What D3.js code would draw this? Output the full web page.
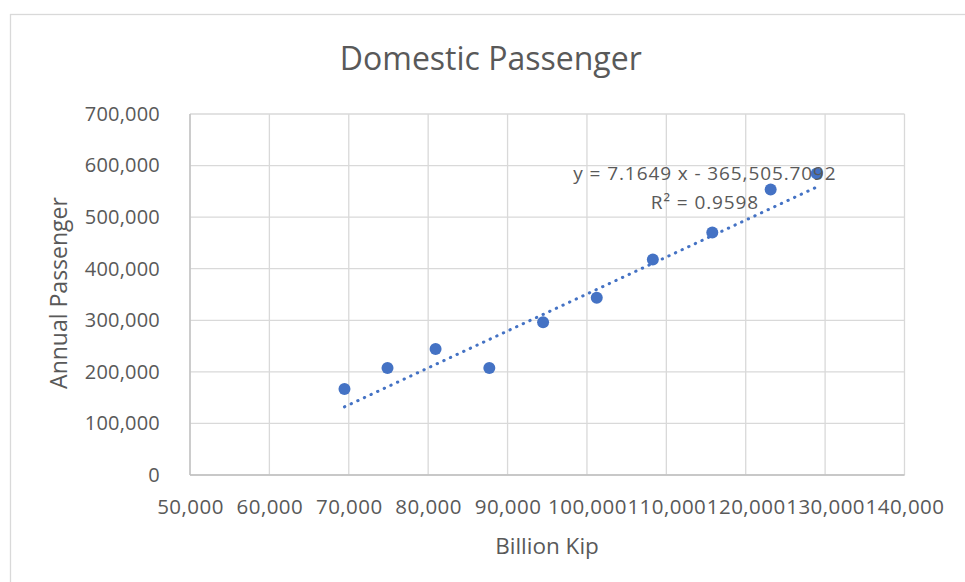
<!DOCTYPE html>
<html>
<head>
<meta charset="utf-8">
<script src="https://cdn.jsdelivr.net/npm/d3@7"></script>
<style>
  html, body { margin: 0; padding: 0; background: #fff; }
  svg { display: block; font-family: "Open Sans", "Liberation Sans", sans-serif; }
</style>
</head>
<body>
<svg id="chart" width="965" height="582"></svg>
<script>
// GDP (billion kip) against annual domestic passengers
const billionKip = [69458, 74880, 80935, 87705, 94476, 101236, 108300, 115790, 123140, 128940];
const annualPassenger = [166640, 207470, 244400, 207470, 296130, 343580, 418000, 470000, 553600, 584700];

// Linear trendline as reported on the chart
const trendSlope = 7.1649;
const trendIntercept = -365505.7092;
const trendR2 = 0.9598;

const xTicks = [50000, 60000, 70000, 80000, 90000, 100000, 110000, 120000, 130000, 140000];
const yTicks = [0, 100000, 200000, 300000, 400000, 500000, 600000, 700000];

const chartTitle = "Domestic Passenger";
const xTitle = "Billion Kip";
const yTitle = "Annual Passenger";

const textColor = "#595959";
const gridColor = "#d9d9d9";
const axisColor = "#bfbfbf";
const markColor = "#4472c4";

const svg = d3.select("#chart");
const plot = { left: 190, right: 904.5, top: 114, bottom: 475 };

// outer chart frame
svg.append("rect")
  .attr("x", 10.5).attr("y", 14.5)
  .attr("width", 1000).attr("height", 620)
  .attr("fill", "#fff")
  .attr("stroke", gridColor).attr("stroke-width", 1.3);

const x = d3.scaleLinear().domain([50000, 140000]).range([plot.left, plot.right]);
const y = d3.scaleLinear().domain([0, 700000]).range([plot.bottom, plot.top]);

// gridlines
const grid = svg.append("g");
grid.selectAll(".vg").data(xTicks).join("line")
  .attr("x1", d => x(d)).attr("x2", d => x(d))
  .attr("y1", plot.top).attr("y2", plot.bottom)
  .attr("stroke", gridColor).attr("stroke-width", 1.3);
grid.selectAll(".hg").data(yTicks).join("line")
  .attr("x1", plot.left).attr("x2", plot.right)
  .attr("y1", d => y(d)).attr("y2", d => y(d))
  .attr("stroke", gridColor).attr("stroke-width", 1.3);

// axis lines
svg.append("line")
  .attr("x1", plot.left).attr("x2", plot.left)
  .attr("y1", plot.top).attr("y2", plot.bottom)
  .attr("stroke", axisColor).attr("stroke-width", 1.3);
svg.append("line")
  .attr("x1", plot.left).attr("x2", plot.right)
  .attr("y1", plot.bottom).attr("y2", plot.bottom)
  .attr("stroke", axisColor).attr("stroke-width", 1.3);

const fmt = d3.format(",");

// axes (labels only)
const xAxis = svg.append("g")
  .attr("transform", `translate(0,${plot.bottom})`)
  .call(d3.axisBottom(x).tickValues(xTicks).tickFormat(fmt).tickSize(0).tickPadding(24));
const yAxis = svg.append("g")
  .attr("transform", `translate(${plot.left},0)`)
  .call(d3.axisLeft(y).tickValues(yTicks).tickFormat(fmt).tickSize(0).tickPadding(30));
[xAxis, yAxis].forEach(g => {
  g.select(".domain").remove();
  g.selectAll("text")
    .attr("fill", textColor)
    .style("font-family", '"Open Sans", sans-serif')
    .style("font-size", "20px");
});
xAxis.selectAll("text").style("font-size", "20.5px").style("letter-spacing", "0.45px");
yAxis.selectAll("text").style("letter-spacing", "0.2px");

// trendline between the smallest and largest x
const xMin = d3.min(billionKip), xMax = d3.max(billionKip);
svg.append("line")
  .attr("x1", x(xMin)).attr("y1", y(trendSlope * xMin + trendIntercept))
  .attr("x2", x(xMax)).attr("y2", y(trendSlope * xMax + trendIntercept))
  .attr("stroke", markColor)
  .attr("stroke-width", 3)
  .attr("stroke-linecap", "round")
  .attr("stroke-dasharray", "0.4 6.9");

// data points
svg.append("g").selectAll("circle")
  .data(billionKip.map((v, i) => [v, annualPassenger[i]]))
  .join("circle")
  .attr("cx", d => x(d[0]))
  .attr("cy", d => y(d[1]))
  .attr("r", 6)
  .attr("fill", markColor);

// trendline equation
const eq = svg.append("text")
  .attr("x", 705).attr("y", 180)
  .attr("text-anchor", "middle")
  .attr("fill", textColor)
  .style("font-size", "19px")
  .style("letter-spacing", "0.9px");
eq.append("tspan").attr("x", 705)
  .text(`y = ${trendSlope} x - ${d3.format(",.4f")(-trendIntercept)}`);
eq.append("tspan").attr("x", 705).attr("dy", 29)
  .text(`R² = ${trendR2}`);

// titles
svg.append("text")
  .attr("x", 490.8).attr("y", 70)
  .attr("text-anchor", "middle")
  .attr("fill", textColor)
  .style("font-size", "32px")
  .text(chartTitle);

svg.append("text")
  .attr("x", 547).attr("y", 554)
  .attr("text-anchor", "middle")
  .attr("fill", textColor)
  .style("font-size", "22.5px")
  .text(xTitle);

svg.append("text")
  .attr("transform", "translate(67,293) rotate(-90)")
  .attr("text-anchor", "middle")
  .attr("fill", textColor)
  .style("font-size", "23px")
  .text(yTitle);
</script>
</body>
</html>
